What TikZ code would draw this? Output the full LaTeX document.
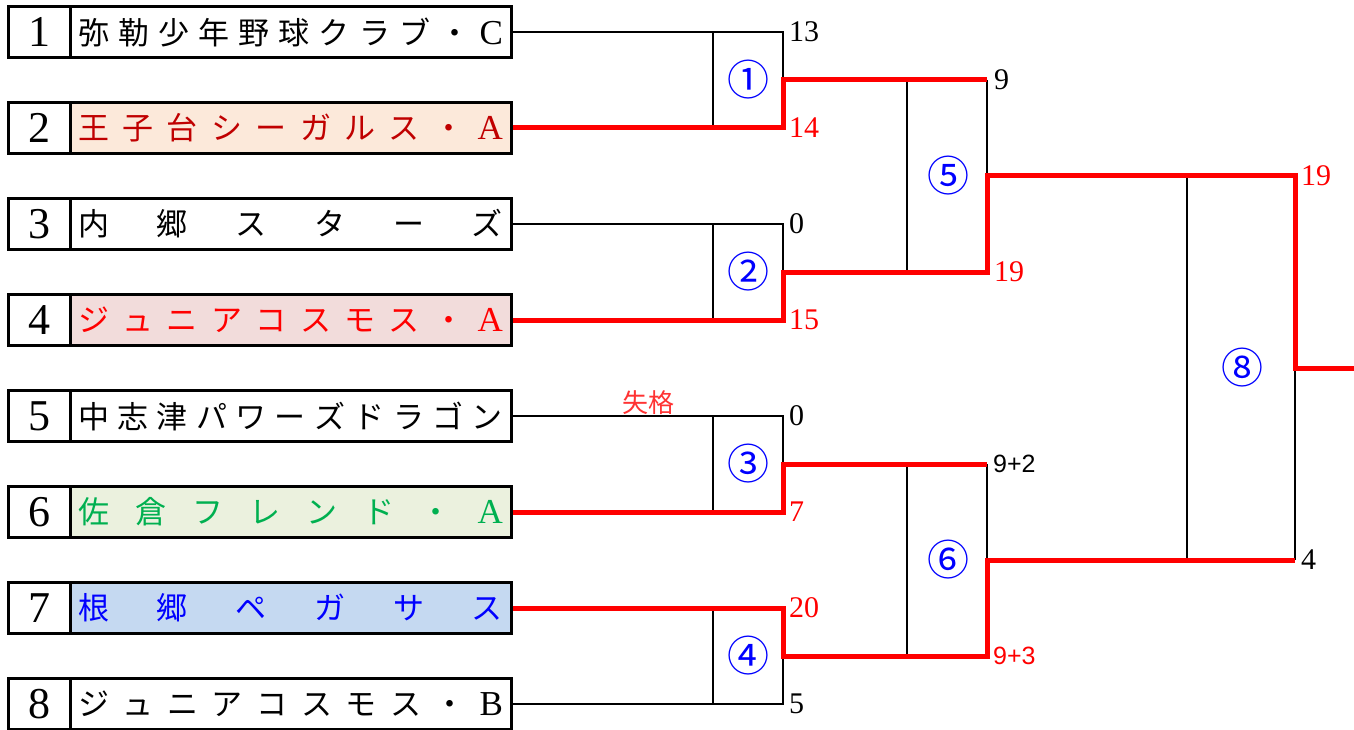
\documentclass[tikz,border=0pt]{standalone}
\usepackage{fontspec}
\setmainfont{Liberation Serif}
\newfontfamily\jp{Noto Sans CJK JP}
\newfontfamily\narrowsans{Liberation Sans}
\definecolor{fillA}{HTML}{FCE9DA}
\definecolor{textA}{HTML}{C00000}
\definecolor{fillB}{HTML}{F2DCDB}
\definecolor{textB}{HTML}{FF0000}
\definecolor{fillC}{HTML}{EBF1DE}
\definecolor{textC}{HTML}{00B050}
\definecolor{fillD}{HTML}{C5D9F1}
\definecolor{textD}{HTML}{0000FF}
\definecolor{winred}{HTML}{FF0000}
\definecolor{dqred}{HTML}{FF3333}
\newcommand\namestr[1]{\makebox[425pt]{\jp\fontsize{31}{31}\selectfont #1}}
\newcommand\lat[1]{{\rmfamily\fontsize{35}{35}\selectfont #1}}
\begin{document}
\begin{tikzpicture}[x=1pt,y=-1pt,
  numcell/.style={draw, line width=3pt, minimum width=62pt, minimum height=51pt, inner sep=0pt, font=\fontsize{44}{44}\selectfont},
  namecell/.style={draw, line width=3pt, minimum width=441pt, minimum height=51pt, inner sep=0pt},
  bk/.style={line width=2.7pt, black},
  rd/.style={line width=5pt, winred, line join=miter},
  circnum/.style={text=blue, inner sep=0pt, font=\jp\fontsize{42}{42}\selectfont},
  score/.style={anchor=west, inner sep=0pt, font=\fontsize{30}{30}\selectfont},
  rscore/.style={score, text=winred},
  sscore/.style={anchor=west, inner sep=0pt, font=\narrowsans\fontsize{25}{25}\selectfont}]
\useasboundingbox (0,0) rectangle (1354,730);

% team boxes
\node[namecell] (t1) at (290.5,32) {\namestr{弥\hfill 勒\hfill 少\hfill 年\hfill 野\hfill 球\hfill ク\hfill ラ\hfill ブ\hfill ・\hfill \lat{C}}};
\node[namecell, fill=fillA, text=textA] (t2) at (290.5,128) {\namestr{王\hfill 子\hfill 台\hfill シ\hfill ー\hfill ガ\hfill ル\hfill ス\hfill ・\hfill \lat{A}}};
\node[namecell] (t3) at (290.5,224) {\namestr{内\hfill 郷\hfill ス\hfill タ\hfill ー\hfill ズ}};
\node[namecell, fill=fillB, text=textB] (t4) at (290.5,320) {\namestr{ジ\hfill ュ\hfill ニ\hfill ア\hfill コ\hfill ス\hfill モ\hfill ス\hfill ・\hfill \lat{A}}};
\node[namecell] (t5) at (290.5,416) {\namestr{中\hfill 志\hfill 津\hfill パ\hfill ワ\hfill ー\hfill ズ\hfill ド\hfill ラ\hfill ゴ\hfill ン}};
\node[namecell, fill=fillC, text=textC] (t6) at (290.5,512) {\namestr{佐\hfill 倉\hfill フ\hfill レ\hfill ン\hfill ド\hfill ・\hfill \lat{A}}};
\node[namecell, fill=fillD, text=textD] (t7) at (290.5,608) {\namestr{根\hfill 郷\hfill ペ\hfill ガ\hfill サ\hfill ス}};
\node[namecell] (t8) at (290.5,704) {\namestr{ジ\hfill ュ\hfill ニ\hfill ア\hfill コ\hfill ス\hfill モ\hfill ス\hfill ・\hfill \lat{B}}};

\node[numcell] (n1) at (39,32) {1};
\node[numcell] (n2) at (39,128) {2};
\node[numcell] (n3) at (39,224) {3};
\node[numcell] (n4) at (39,320) {4};
\node[numcell] (n5) at (39,416) {5};
\node[numcell] (n6) at (39,512) {6};
\node[numcell] (n7) at (39,608) {7};
\node[numcell] (n8) at (39,704) {8};

% bracket coordinates
\coordinate (a1) at (783,32);  \coordinate (a2) at (783,128);
\coordinate (a3) at (783,224); \coordinate (a4) at (783,320);
\coordinate (a5) at (783,416); \coordinate (a6) at (783,512);
\coordinate (a7) at (783,608); \coordinate (a8) at (783,704);
\coordinate (m1) at (783,80);  \coordinate (m2) at (783,272);
\coordinate (m3) at (783,464); \coordinate (m4) at (783,656);
\coordinate (p1) at (987,80);  \coordinate (p2) at (987,272);
\coordinate (p3) at (987,464); \coordinate (p4) at (987,656);
\coordinate (q5) at (987,176); \coordinate (q6) at (987,560);
\coordinate (f5) at (1295,176); \coordinate (f6) at (1295,560);
\coordinate (fm) at (1295,368); \coordinate (fin) at (1354,368);

% black lines
\draw[bk] (t1.east) -- (a1) -- (m1);
\draw[bk] (t3.east) -- (a3) -- (m2);
\draw[bk] (t5.east) -- (a5) -- (m3);
\draw[bk] (t8.east) -- (a8) -- (m4);
\draw[bk] (713,32) -- (713,128);
\draw[bk] (713,224) -- (713,320);
\draw[bk] (713,416) -- (713,512);
\draw[bk] (713,608) -- (713,704);
\draw[bk] (907,80) -- (907,272);
\draw[bk] (907,464) -- (907,656);
\draw[bk] (p1) -- (q5);
\draw[bk] (p3) -- (q6);
\draw[bk] (1187,176) -- (1187,560);
\draw[bk] (fm) -- (f6);

% winner (red) lines
\draw[rd] (t2.east) -- (a2) -- (m1) -- (p1);
\draw[rd] (t4.east) -- (a4) -- (m2) -- (p2) -- (q5) -- (f5) -- (fm) -- (fin);
\draw[rd] (t6.east) -- (a6) -- (m3) -- (p3);
\draw[rd] (t7.east) -- (a7) -- (m4) -- (p4) -- (q6) -- (f6);

% match numbers
\node[circnum] (c1) at (748,80) {①};
\node[circnum] (c2) at (748,272) {②};
\node[circnum] (c3) at (748,464) {③};
\node[circnum] (c4) at (748,656) {④};
\node[circnum] (c5) at (948,176) {⑤};
\node[circnum] (c6) at (948,560) {⑥};
\node[circnum] (c8) at (1242,368) {⑧};

% scores
\node[score]  (s1) at (789,32)  {13};
\node[rscore] (s2) at (789,128) {14};
\node[score]  (s3) at (789,224) {0};
\node[rscore] (s4) at (789,320) {15};
\node[score]  (s5) at (789,416) {0};
\node[rscore] (s6) at (789,512) {7};
\node[rscore] (s7) at (789,608) {20};
\node[score]  (s8) at (789,704) {5};
\node[score]  (s9) at (994,80)  {9};
\node[rscore] (s10) at (994,272) {19};
\node[sscore] (s11) at (993,464) {9+2};
\node[sscore, text=winred] (s12) at (993,656) {9+3};
\node[rscore] (s13) at (1301,176) {19};
\node[score]  (s14) at (1301,560) {4};

\node[text=dqred, inner sep=0pt, font=\jp\fontsize{26}{26}\selectfont] (dq) at (648,403) {失格};
\end{tikzpicture}
\end{document}
